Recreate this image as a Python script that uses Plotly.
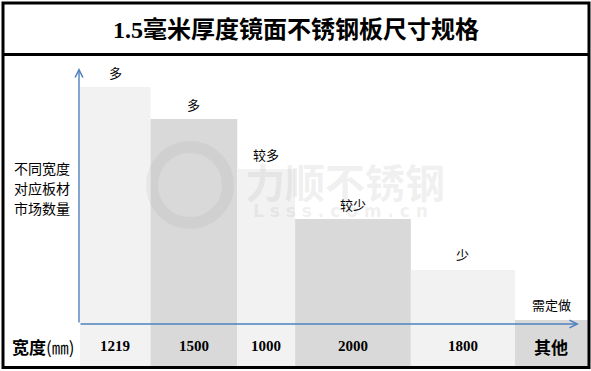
import plotly.graph_objects as go

# ---------------- data ----------------
categories = ["1219", "1500", "1000", "2000", "1800", "其他"]
widths_mm = [1219, 1500, 1000, 2000, 1800, 1262]        # column widths (mm); 其他 estimated
quantity = [100, 86.5, 65.4, 44.3, 22.8, 1.7]          # relative market quantity
bar_labels = ["多", "多", "较多", "较少", "少", "需定做"]
title_text = "1.5毫米厚度镜面不锈钢板尺寸规格"
x_title = "<b>宽度</b>(㎜)"
y_title_lines = ["不同宽度", "对应板材", "市场数量"]

# ---------------- geometry helpers ----------------
W, H = 591, 371
X0_PX, KX = 80, 0.05785       # px of x=0, px per mm
BASE_PX, KY = 324, 2.37       # px of y=0, px per unit
ROW = (368 - BASE_PX) / KY    # depth of label row in data units


def px(x):
    return x / W


def py(y):
    return 1 - y / H


CJK = "Noto Sans CJK SC"
SERIF = "Liberation Serif, Noto Sans CJK SC"

lefts = []
acc = 0
for w in widths_mm:
    lefts.append(acc)
    acc += w
centers = [l + w / 2 for l, w in zip(lefts, widths_mm)]
colors = ["#f2f2f2" if i % 2 == 0 else "#d9d9d9" for i in range(len(categories))]

fig = go.Figure()
fig.add_trace(go.Bar(
    x=centers,
    y=[q + ROW for q in quantity],
    base=[-ROW] * len(quantity),
    width=widths_mm,
    marker=dict(color=colors, line=dict(width=0)),
    hoverinfo="skip",
    showlegend=False,
))

annotations = []


def ann(**kw):
    d = dict(showarrow=False, xanchor="center", yanchor="middle")
    d.update(kw)
    annotations.append(d)


# watermark
ann(xref="paper", yref="paper", x=px(345), y=py(181), text="<b>力顺不锈钢</b>",
    font=dict(family=CJK, size=40, color="rgba(140,140,140,0.14)"))
ann(xref="paper", yref="paper", x=px(340), y=py(211), text="<b>L s s s . c o m . c n</b>",
    font=dict(family="DejaVu Sans", size=17, color="rgba(140,140,140,0.14)"))

# bar value labels
for c, q, t in zip(centers, quantity, bar_labels):
    ann(x=c, y=q, xref="x", yref="y", text=t, yshift=15,
        font=dict(family=CJK, size=13, color="#000000"))

# category labels in the bottom row
for c, cat in zip(centers, categories):
    if cat.isdigit():
        f = dict(family=SERIF, size=15, color="#000000")
    else:
        f = dict(family=CJK, size=17, color="#000000")
    ann(x=c, y=-ROW / 2, xref="x", yref="y", text="<b>" + cat + "</b>", font=f)

ann(xref="paper", yref="paper", x=px(43), y=py(346), text=x_title,
    font=dict(family=CJK, size=17, color="#000000"))

# y title lines
for i, line in enumerate(y_title_lines):
    ann(xref="paper", yref="paper", x=px(12), y=py(168 + 20 * i), xanchor="left",
        text=line, font=dict(family=CJK, size=14, color="#000000"))

# title
ann(xref="paper", yref="paper", x=0.5, y=py(30), text="<b>" + title_text + "</b>",
    font=dict(family=SERIF, size=24, color="#000000"))

# axis arrows
AX_COLOR = "#4f81bd"
annotations.append(dict(xref="paper", yref="paper", x=px(79), y=py(68), ax=0, ay=324 - 68, text="",
                        showarrow=True, arrowhead=5, arrowsize=1.1, arrowwidth=1.4, arrowcolor=AX_COLOR,
                        standoff=0))
annotations.append(dict(xref="paper", yref="paper", x=px(579), y=py(324), ax=-(579 - 79), ay=0, text="",
                        showarrow=True, arrowhead=5, arrowsize=1.1, arrowwidth=1.4, arrowcolor=AX_COLOR,
                        standoff=0))

shapes = [
    # watermark logo ring
    dict(type="circle", xref="paper", yref="paper", x0=px(152), x1=px(228), y0=py(223), y1=py(147),
         line=dict(color="rgba(140,140,140,0.10)", width=12)),
    # outer border
    dict(type="rect", xref="paper", yref="paper", x0=px(3), x1=px(589), y0=py(3), y1=py(367.5),
         line=dict(color="#000000", width=3)),
    # title separator
    dict(type="line", xref="paper", yref="paper", x0=px(3), x1=px(589), y0=py(54.5), y1=py(54.5),
         line=dict(color="#000000", width=3)),
]

fig.update_layout(
    width=W, height=H,
    margin=dict(l=0, r=0, t=0, b=0),
    paper_bgcolor="#ffffff", plot_bgcolor="#ffffff",
    xaxis=dict(range=[-X0_PX / KX, (W - X0_PX) / KX], visible=False, fixedrange=True),
    yaxis=dict(range=[-(H - BASE_PX) / KY, BASE_PX / KY], visible=False, fixedrange=True),
    annotations=annotations,
    shapes=shapes,
    showlegend=False,
)

fig.write_html(
    "out.html",
    config={"displayModeBar": False},
    post_script="document.body.style.margin='0';document.body.style.overflow='hidden';",
)
